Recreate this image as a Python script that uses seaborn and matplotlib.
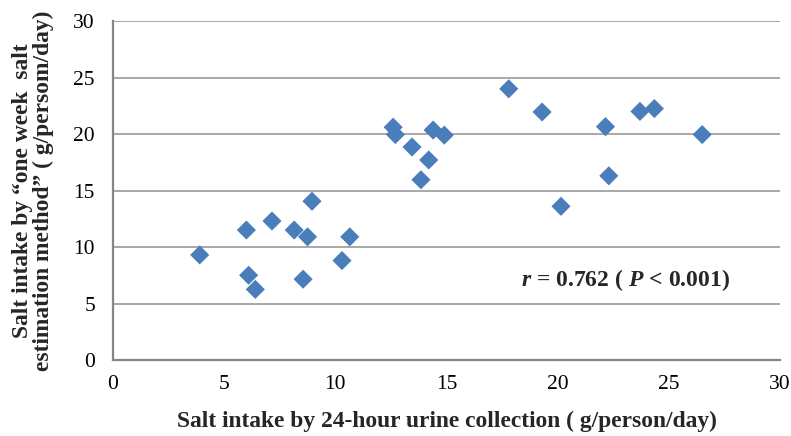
import matplotlib
matplotlib.use('Agg')
import pandas as pd
import seaborn as sns
from matplotlib import pyplot as plt

# values
urine_24h = [3.9, 6.0, 6.1, 6.4, 7.15, 8.15, 8.75, 8.55, 8.95, 10.3, 10.65,
             12.6, 12.7, 13.45, 14.2, 13.85, 14.4, 14.9,
             17.8, 19.3, 20.15, 22.15, 22.3, 23.7, 24.35, 26.5]
one_week = [9.3, 11.5, 7.5, 6.25, 12.3, 11.5, 10.9, 7.15, 14.05, 8.8, 10.9,
            20.6, 19.95, 18.85, 17.7, 15.95, 20.35, 19.9,
            24.0, 21.95, 13.6, 20.65, 16.3, 22.0, 22.25, 19.95]
ticks = [0, 5, 10, 15, 20, 25, 30]

df = pd.DataFrame({'urine': urine_24h, 'week': one_week})

sns.set_theme(style='white')
plt.rcParams['font.family'] = ['Liberation Serif', 'DejaVu Serif']
plt.rcParams['mathtext.fontset'] = 'custom'
plt.rcParams['mathtext.it'] = 'Liberation Serif:italic:bold'
plt.rcParams['mathtext.rm'] = 'Liberation Serif:bold'

fig = plt.figure(figsize=(7.91, 4.36), dpi=100)
ax = fig.add_axes([113 / 791, 1 - 360 / 436, 667 / 791, 339 / 436])

ax.yaxis.grid(True, color='#9a9a9a', linewidth=1.2)
ax.set_axisbelow(True)

sns.scatterplot(data=df, x='urine', y='week', marker='D', s=95,
                color='#4a7ebb', edgecolor='none', ax=ax, zorder=3)

ax.set_xlim(0, 30)
ax.set_ylim(0, 30)
ax.set_xticks(ticks)
ax.set_yticks(ticks)
ax.tick_params(axis='both', length=0, labelsize=15.5, colors='black')
ax.tick_params(axis='x', pad=11)
ax.tick_params(axis='y', pad=13)

for side in ['top', 'right']:
    ax.spines[side].set_visible(False)
for side in ['left', 'bottom']:
    ax.spines[side].set_color('#868686')
    ax.spines[side].set_linewidth(1.6)

ax.set_xlabel('Salt intake by 24-hour urine collection ( g/person/day)',
              fontsize=16.9, fontweight='bold')
ax.xaxis.set_label_coords(0.5, -(421 - 360) / 339)
ax.xaxis.label.set_va('center')

ax.set_ylabel('Salt intake by \u201cone week  salt\nestimation method\u201d ( g/persom/day)',
              fontsize=16.9, fontweight='bold', linespacing=1.0)
ax.yaxis.set_label_coords(-(113 - 33) / 667, 0.5)
ax.yaxis.label.set_va('center')

ax.text(18.35, 7.08, r'$r$ = 0.762 ( $P$ < 0.001)', fontsize=17,
        fontweight='bold', ha='left', va='center')

fig.savefig('out.png', dpi=100)
